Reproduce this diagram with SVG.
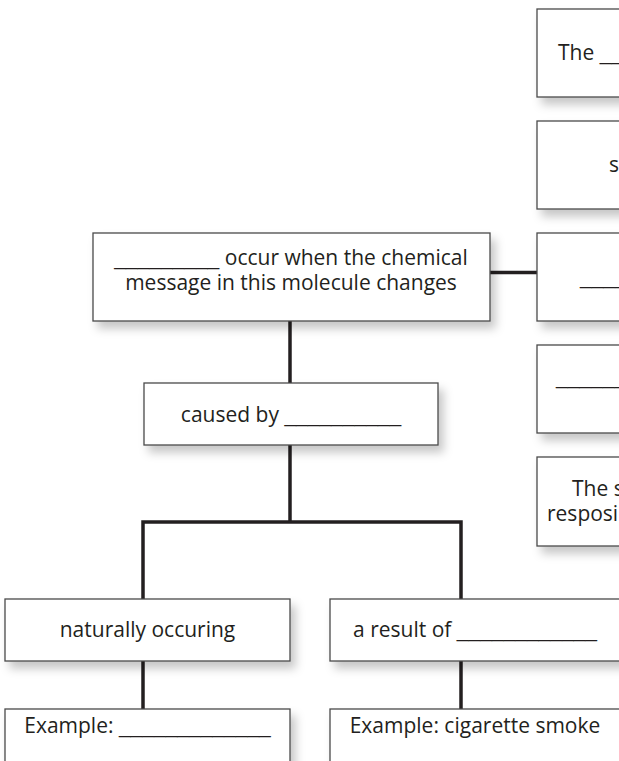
<svg xmlns="http://www.w3.org/2000/svg" width="619" height="761" viewBox="0 0 619 761">
<defs>
<filter id="sh" x="-10%" y="-20%" width="130%" height="160%">
<feDropShadow dx="5" dy="7" stdDeviation="5" flood-color="#000" flood-opacity="0.22"/>
</filter>
<style>
.box{fill:#fff;stroke:#4a4a4a;stroke-width:1.3;filter:url(#sh)}
.t{font-family:"Open Sans","Noto Sans","Liberation Sans",sans-serif;font-size:21px;fill:#231f20}
.u{font-family:"Liberation Sans","Open Sans",sans-serif}
.m{text-anchor:middle}
.c{fill:none;stroke:#231f20;stroke-width:3.5;stroke-linecap:butt;stroke-linejoin:miter}
</style>
</defs>
<rect width="619" height="761" fill="#fff"/>
<g id="connectors">
<path class="c" d="M490 272.5H537"/>
<path class="c" d="M290 321V383"/>
<path class="c" d="M290 445V522"/>
<path class="c" d="M143 599V522H461V599"/>
<path class="c" d="M143 661V709"/>
<path class="c" d="M461 661V709"/>
</g>
<g id="r1"><rect class="box" x="537" y="9" width="120" height="88"/><text class="t" x="558" y="60">The <tspan class="u">___</tspan></text></g>
<g id="r2"><rect class="box" x="537" y="121" width="120" height="88"/><text class="t" x="609" y="172">s</text></g>
<g id="r3"><rect class="box" x="537" y="233" width="120" height="88"/><text class="t u" x="580" y="284">____</text></g>
<g id="r4"><rect class="box" x="537" y="345" width="120" height="88"/><text class="t u" x="556" y="384">______</text></g>
<g id="r5"><rect class="box" x="537" y="457" width="120" height="89"/><text class="t" x="572" y="496">The s</text><text class="t" x="547" y="521">resposib</text></g>
<g id="main"><rect class="box" x="93" y="233" width="397" height="88"/><text class="t m" x="291" y="265"><tspan class="u">_________</tspan> occur when the chemical</text><text class="t m" x="291" y="290">message in this molecule changes</text></g>
<g id="caused"><rect class="box" x="144" y="383" width="294" height="62"/><text class="t m" x="291" y="422">caused by <tspan class="u">__________</tspan></text></g>
<g id="natural"><rect class="box" x="5" y="599" width="285" height="62"/><text class="t m" x="147.5" y="637">naturally occuring</text></g>
<g id="result"><rect class="box" x="330" y="599" width="300" height="62"/><text class="t m" x="475" y="637">a result of <tspan class="u">____________</tspan></text></g>
<g id="ex1"><rect class="box" x="5" y="709" width="285" height="80"/><text class="t m" x="147.5" y="733">Example: <tspan class="u">_____________</tspan></text></g>
<g id="ex2"><rect class="box" x="330" y="709" width="300" height="80"/><text class="t m" x="475" y="733">Example: cigarette smoke</text></g>
</svg>
